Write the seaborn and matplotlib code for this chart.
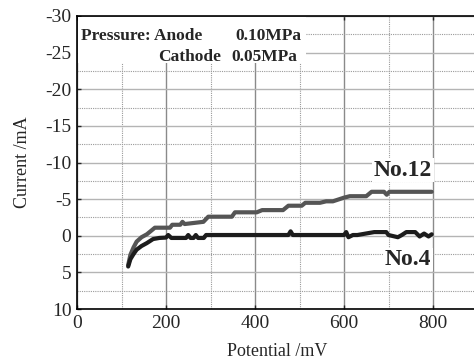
"""Current vs potential curves for two cells (No.12 and No.4)."""
import matplotlib
matplotlib.use("Agg")
import matplotlib.pyplot as plt
import numpy as np
import pandas as pd
import seaborn as sns
from matplotlib.patches import Rectangle
from matplotlib.ticker import MultipleLocator

# No.12 curve
pot_12 = [115, 120, 127, 134, 145, 157, 167, 175, 209, 214, 232, 237, 242, 284, 295,
          348, 355, 404, 416, 463, 475, 505, 513, 546, 560, 575, 600, 613, 650, 662,
          690, 696, 702, 797]
cur_12 = [4.0, 2.6, 1.6, 0.8, 0.2, -0.2, -0.7, -1.1, -1.1, -1.5, -1.5, -1.9, -1.6, -1.9, -2.6,
          -2.6, -3.2, -3.2, -3.5, -3.5, -4.1, -4.1, -4.5, -4.5, -4.7, -4.7, -5.2, -5.4, -5.4, -6.0,
          -6.0, -5.6, -6.0, -6.0]

# No.4 curve
pot_4 = [115, 120, 127, 134, 145, 157, 171, 185, 200, 205, 212, 245, 250, 255, 262, 267,
         272, 280, 285, 290, 300, 475, 480, 485, 600, 605, 610, 620, 630, 668, 695, 700,
         721, 730, 740, 760, 770, 780, 790, 797]
cur_4 = [4.2, 3.2, 2.5, 1.9, 1.4, 1.0, 0.45, 0.3, 0.25, -0.1, 0.3, 0.3, -0.1, 0.3, 0.3, -0.1,
         0.3, 0.3, 0.3, -0.1, -0.1, -0.1, -0.6, -0.1, -0.1, -0.5, 0.2, -0.1, -0.1, -0.5, -0.5, -0.1,
         0.2, -0.1, -0.5, -0.5, 0.1, -0.3, 0.1, -0.2]

x_ticks = [0, 200, 400, 600, 800]
y_ticks = [-30, -25, -20, -15, -10, -5, 0, 5, 10]

sns.set_style("white")
plt.rcParams["font.family"] = ["Liberation Serif", "DejaVu Serif"]

df12 = pd.DataFrame({"Potential": pot_12, "Current": cur_12})
df4 = pd.DataFrame({"Potential": pot_4, "Current": cur_4})

fig = plt.figure(figsize=(4.74, 3.6), dpi=100)
ax = fig.add_axes([77 / 474, 51 / 360, 400.5 / 474, 293 / 360])

# grid: solid major, dotted minor
ax.xaxis.set_minor_locator(MultipleLocator(100))
ax.yaxis.set_minor_locator(MultipleLocator(2.5))
ax.grid(axis="x", which="major", color="#8a8a8a", lw=1.0, ls="-")
ax.grid(axis="y", which="major", color="#b4b4b4", lw=1.0, ls="-")
ax.grid(which="minor", color="#9a9a9a", lw=0.8, ls=(0, (1, 1)))
ax.set_axisbelow(True)

sns.lineplot(data=df12, x="Potential", y="Current", color="#555555", lw=3,
             sort=False, estimator=None, ax=ax, zorder=3)
sns.lineplot(data=df4, x="Potential", y="Current", color="#1c1c1c", lw=3,
             sort=False, estimator=None, ax=ax, zorder=4)

ax.set_xlim(0, 900)
ax.set_ylim(10, -30)
ax.set_xticks(x_ticks)
ax.set_yticks(y_ticks)
ax.set_xticklabels([str(v) for v in x_ticks])
ax.set_yticklabels([str(v) for v in y_ticks])
ax.tick_params(which="major", direction="in", length=3, width=1, labelsize=14,
               top=True, bottom=True, left=True, right=False, pad=4)
ax.tick_params(which="minor", length=0)
for s in ["left", "bottom", "top"]:
    ax.spines[s].set_color("black")
    ax.spines[s].set_linewidth(1.2)
ax.spines["right"].set_visible(False)

ax.set_xlabel("Potential /mV", fontsize=13, labelpad=8)
ax.set_ylabel("Current /mA", fontsize=13, labelpad=10)

# white box behind the pressure note
ax.add_patch(Rectangle((0.003, 0.84), 0.57, 0.157, transform=ax.transAxes,
                       facecolor="white", edgecolor="none", zorder=2))
note = dict(fontsize=12.5, fontweight="bold", zorder=5, va="baseline")
ax.text(9, -26.7, "Pressure: Anode", ha="left", **note)
ax.text(357, -26.7, "0.10MPa", ha="left", **note)
ax.text(182, -23.9, "Cathode", ha="left", **note)
ax.text(348, -23.9, "0.05MPa", ha="left", **note)

lab = dict(fontsize=17, fontweight="bold", ha="right", va="baseline", zorder=5,
           bbox=dict(facecolor="white", edgecolor="none", pad=1))
ax.text(798, -8.2, "No.12", **lab)
ax.text(796, 4.0, "No.4", **lab)

fig.savefig("out.png", dpi=100)
